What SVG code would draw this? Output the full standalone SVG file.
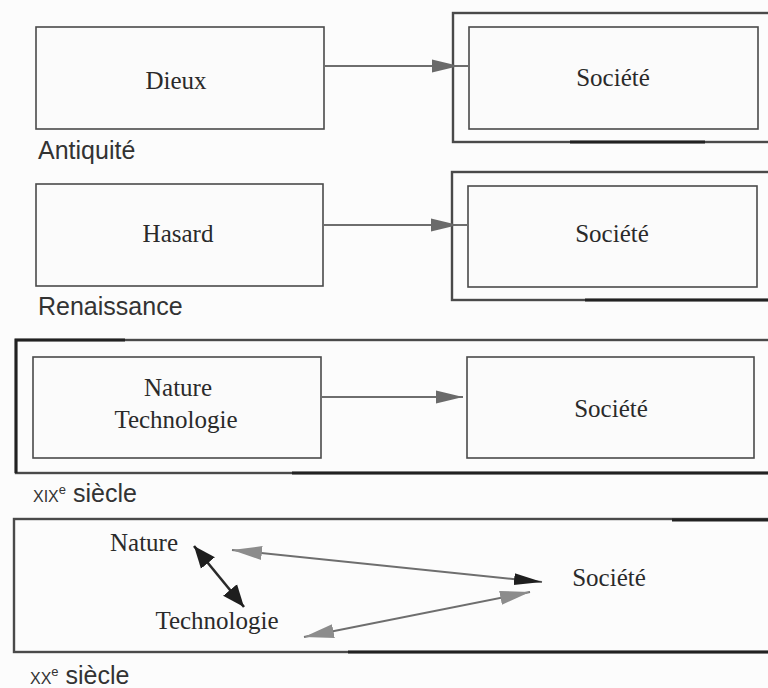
<svg xmlns="http://www.w3.org/2000/svg" width="768" height="688" viewBox="0 0 768 688">
<defs>
<style>
.bg{fill:#fcfcfc}
.box{fill:#fbfbfb;stroke:#4a4a4a;stroke-width:1.6}
.outer{fill:none;stroke:#4a4a4a;stroke-width:2.4}
.thick{fill:none;stroke:#222;stroke-width:3}
.lbl{font-family:"Liberation Serif","Times New Roman",serif;font-size:25px;fill:#2a2a2a;text-anchor:middle}
.era{font-family:"Liberation Sans",Arial,sans-serif;font-size:25px;fill:#333}
.conn{fill:none;stroke:#6e6e6e;stroke-width:2}
.connd{fill:none;stroke:#2a2a2a;stroke-width:2.6}
</style>
<marker id="ag" markerUnits="userSpaceOnUse" markerWidth="30" markerHeight="16" refX="27" refY="8" orient="auto"><path d="M0,1.5 L27,8 L0,14.5 Z" fill="#6a6a6a"/></marker>
<marker id="hg" markerUnits="userSpaceOnUse" markerWidth="32" markerHeight="16" refX="30" refY="8" orient="auto-start-reverse"><path d="M0,1 L30,8 L0,15 Z" fill="#8c8c8c"/></marker>
<marker id="hd" markerUnits="userSpaceOnUse" markerWidth="30" markerHeight="14" refX="28" refY="7" orient="auto-start-reverse"><path d="M0,1 L28,7 L0,13 Z" fill="#1e1e1e"/></marker>
<marker id="hs" markerUnits="userSpaceOnUse" markerWidth="24" markerHeight="20" refX="22" refY="10" orient="auto-start-reverse"><path d="M0,1 L22,10 L0,19 Z" fill="#1e1e1e"/></marker>
</defs>
<rect class="bg" x="0" y="0" width="768" height="688"/>

<!-- Row 1: Antiquité -->
<g id="dieux">
<rect class="box" x="36" y="27" width="288" height="102"/>
<text class="lbl" x="176" y="89">Dieux</text>
</g>
<g id="societe1">
<rect class="outer" x="453" y="13" width="330" height="129"/>
<line class="thick" x1="570" y1="142" x2="705" y2="142"/>
<rect class="box" x="469" y="27" width="289" height="102"/>
<text class="lbl" x="613" y="86">Société</text>
</g>
<text id="antiquite" class="era" x="38" y="159">Antiquité</text>

<!-- Row 2: Renaissance -->
<g id="hasard">
<rect class="box" x="36" y="184" width="287" height="102"/>
<text class="lbl" x="178" y="242">Hasard</text>
</g>
<g id="societe2">
<rect class="outer" x="452" y="172" width="330" height="128"/>
<line class="thick" x1="585" y1="300" x2="768" y2="300"/>
<rect class="box" x="468" y="186" width="289" height="101"/>
<text class="lbl" x="612" y="242">Société</text>
</g>
<text id="renaissance" class="era" x="38" y="315">Renaissance</text>

<!-- Row 3: XIXe siècle -->
<g id="frame19">
<rect class="outer" x="16" y="340" width="780" height="133"/>
<path class="thick" d="M125,340 L16,340 L16,473"/>
<line class="thick" x1="292" y1="473" x2="768" y2="473"/>
</g>
<g id="naturetech">
<rect class="box" x="33" y="357" width="288" height="101"/>
<text class="lbl" x="178" y="396">Nature</text>
<text class="lbl" x="176" y="428">Technologie</text>
</g>
<g id="societe3">
<rect class="box" x="467" y="357" width="287" height="101"/>
<text class="lbl" x="611" y="417">Société</text>
</g>
<text id="xix" class="era" x="33" y="502"><tspan font-size="16">XIX</tspan><tspan font-size="13" dy="-8">e</tspan><tspan dy="8"> siècle</tspan></text>

<!-- Row 4: XXe siècle -->
<g id="frame20">
<rect class="outer" x="14" y="519" width="780" height="133"/>
<line class="thick" x1="672" y1="520" x2="768" y2="520"/>
<line class="thick" x1="348" y1="652" x2="768" y2="652"/>
</g>
<g id="nature4"><text class="lbl" x="144" y="551">Nature</text></g>
<g id="tech4"><text class="lbl" x="217" y="629">Technologie</text></g>
<g id="societe4"><text class="lbl" x="609" y="586">Société</text></g>
<text id="xx" class="era" x="30" y="684"><tspan font-size="16">XX</tspan><tspan font-size="13" dy="-8">e</tspan><tspan dy="8"> siècle</tspan></text>

<g id="connectors">
<path class="conn" d="M324,66 L459,66 L469,66" marker-mid="url(#ag)"/>
<path class="conn" d="M323,225 L458,225 L468,225" marker-mid="url(#ag)"/>
<path class="conn" d="M321,397 L463,397" marker-end="url(#ag)"/>
<path class="connd" d="M194,546 L244,607" marker-start="url(#hs)" marker-end="url(#hs)"/>
<path class="conn" d="M232,550 L542,582" marker-start="url(#hg)" marker-end="url(#hd)"/>
<path class="conn" d="M304,637 L530,592" marker-start="url(#hg)" marker-end="url(#hg)"/>
</g>
</svg>
